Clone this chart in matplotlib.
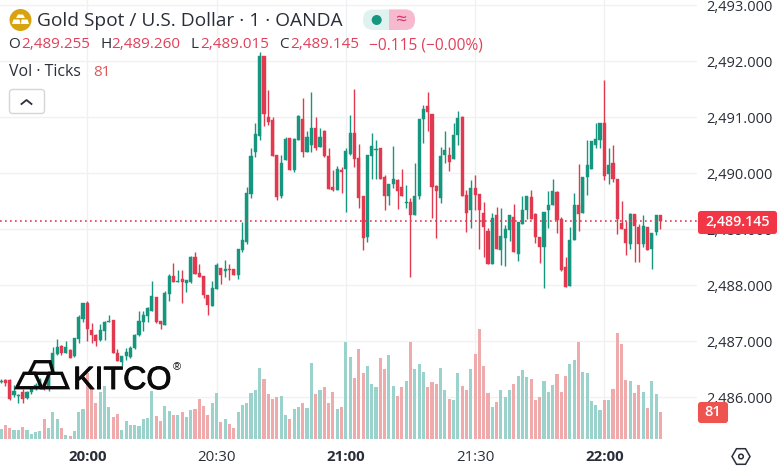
"""Gold spot 1-minute candles with tick volume, TradingView look."""

import matplotlib

matplotlib.use("Agg")
import matplotlib.patheffects as pe
import matplotlib.pyplot as plt
from matplotlib.patches import Circle, FancyBboxPatch, Polygon, Rectangle, RegularPolygon

FIRST_BAR = -20  # minutes relative to 20:00
opens = [
    2486.27, 2486.31, 2486.31, 2486.04, 2486.03, 2486.09, 2485.99, 2486.09, 2486.16, 2486.19,
    2486.24, 2486.15, 2486.46, 2486.77, 2486.92, 2486.80, 2486.85, 2486.74, 2487.04, 2487.40,
    2487.68, 2487.21, 2487.12, 2487.03, 2487.19, 2487.35, 2487.38, 2486.80, 2486.63, 2486.74,
    2486.72, 2486.88, 2487.12, 2487.34, 2487.46, 2487.55, 2487.80, 2487.37, 2487.29, 2487.85,
    2488.17, 2488.07, 2488.11, 2488.05, 2488.07, 2488.50, 2488.22, 2488.17, 2487.83, 2487.63,
    2487.94, 2488.31, 2488.26, 2488.29, 2488.29, 2488.18, 2488.63, 2488.77, 2489.63, 2490.38,
    2490.67, 2492.10, 2491.00, 2490.96, 2490.33, 2489.59, 2490.24, 2490.63, 2490.06, 2490.60,
    2490.97, 2490.39, 2490.51, 2490.82, 2490.48, 2490.76, 2490.31, 2489.75, 2489.71, 2490.06,
    2490.08, 2490.35, 2490.72, 2490.28, 2489.60, 2488.87, 2490.31, 2490.42, 2490.45, 2489.93,
    2489.60, 2489.81, 2489.88, 2489.75, 2489.47, 2489.49, 2489.26, 2489.60, 2490.97, 2491.21,
    2491.06, 2489.78, 2489.57, 2490.33, 2490.33, 2490.26, 2490.68, 2491.01, 2489.62, 2489.35,
    2489.74, 2489.63, 2489.29, 2488.97, 2488.38, 2489.26, 2488.63, 2488.85, 2488.99, 2489.22,
    2488.56, 2489.10, 2489.35, 2489.58, 2489.28, 2488.86, 2488.68, 2489.35, 2489.43, 2489.67,
    2489.19, 2488.33, 2487.99, 2488.81, 2489.44, 2489.30, 2489.93, 2490.08, 2490.51, 2490.59,
    2490.91, 2489.99, 2490.18, 2489.91, 2489.12, 2489.01, 2488.74, 2489.28, 2489.05, 2488.74,
    2489.04, 2488.65, 2488.96, 2489.255,
]
highs = [
    2486.33, 2486.33, 2486.33, 2486.22, 2486.07, 2486.16, 2486.12, 2486.19, 2486.25, 2486.35,
    2486.27, 2486.42, 2486.90, 2487.04, 2486.94, 2487.01, 2486.87, 2487.07, 2487.47, 2487.69,
    2487.72, 2487.33, 2487.13, 2487.31, 2487.37, 2487.47, 2487.38, 2486.86, 2486.74, 2486.88,
    2486.92, 2487.13, 2487.54, 2487.54, 2487.62, 2488.08, 2487.80, 2487.37, 2487.90, 2488.21,
    2488.41, 2488.28, 2488.28, 2488.10, 2488.53, 2488.59, 2488.38, 2488.17, 2487.83, 2488.08,
    2488.41, 2488.31, 2488.46, 2488.38, 2488.29, 2488.65, 2489.14, 2489.75, 2490.45, 2490.91,
    2492.17, 2492.10, 2491.49, 2491.00, 2490.33, 2490.33, 2490.65, 2490.63, 2490.63, 2491.04,
    2491.34, 2490.76, 2491.45, 2491.01, 2490.82, 2490.78, 2490.45, 2490.06, 2490.13, 2490.12,
    2490.45, 2491.04, 2491.50, 2490.53, 2489.60, 2490.33, 2490.72, 2490.60, 2490.45, 2489.97,
    2489.81, 2490.49, 2489.90, 2490.08, 2489.79, 2489.56, 2490.18, 2490.97, 2491.22, 2491.45,
    2491.06, 2489.80, 2490.48, 2490.76, 2490.47, 2490.91, 2491.12, 2491.03, 2489.71, 2489.88,
    2489.97, 2489.63, 2489.49, 2489.03, 2489.29, 2489.40, 2489.38, 2489.08, 2489.26, 2489.46,
    2489.13, 2489.59, 2489.60, 2489.71, 2489.29, 2488.86, 2489.31, 2489.69, 2489.90, 2489.69,
    2489.23, 2488.51, 2489.04, 2489.66, 2490.17, 2489.93, 2490.60, 2490.58, 2490.91, 2490.91,
    2491.67, 2490.46, 2490.51, 2489.91, 2489.51, 2489.15, 2489.29, 2489.28, 2489.10, 2489.26,
    2489.04, 2488.94, 2489.26, 2489.26,
]
lows = [
    2486.26, 2486.21, 2485.96, 2486.00, 2485.91, 2485.91, 2485.97, 2486.07, 2486.13, 2486.15,
    2486.14, 2486.12, 2486.43, 2486.76, 2486.76, 2486.79, 2486.70, 2486.73, 2486.98, 2487.35,
    2487.00, 2486.97, 2486.92, 2487.01, 2487.03, 2487.35, 2486.80, 2486.66, 2486.56, 2486.67,
    2486.70, 2486.87, 2487.10, 2487.19, 2487.35, 2487.54, 2487.33, 2487.22, 2487.29, 2487.72,
    2488.07, 2488.07, 2487.69, 2487.89, 2488.04, 2488.21, 2488.16, 2487.78, 2487.47, 2487.63,
    2487.94, 2488.03, 2488.16, 2488.09, 2488.18, 2488.12, 2488.60, 2488.74, 2489.57, 2490.29,
    2490.60, 2490.84, 2490.87, 2490.32, 2489.53, 2489.57, 2490.24, 2490.06, 2490.03, 2490.60,
    2490.30, 2490.39, 2490.39, 2490.42, 2490.48, 2490.29, 2489.72, 2489.69, 2489.71, 2489.66,
    2489.32, 2490.33, 2490.11, 2489.39, 2488.63, 2488.77, 2489.91, 2489.91, 2489.90, 2489.35,
    2489.43, 2489.74, 2489.37, 2489.59, 2489.39, 2488.16, 2489.26, 2489.54, 2490.55, 2490.75,
    2489.21, 2488.85, 2489.48, 2490.19, 2490.05, 2490.26, 2490.51, 2489.59, 2488.96, 2489.03,
    2489.34, 2488.65, 2488.51, 2488.38, 2488.38, 2488.65, 2488.37, 2488.34, 2488.79, 2488.59,
    2488.44, 2489.10, 2489.19, 2489.18, 2488.76, 2488.41, 2487.96, 2489.03, 2489.43, 2488.94,
    2488.25, 2487.98, 2487.99, 2488.81, 2488.97, 2489.30, 2489.62, 2490.08, 2490.45, 2490.46,
    2489.88, 2489.81, 2489.85, 2488.92, 2489.01, 2488.54, 2488.66, 2488.42, 2488.42, 2488.69,
    2488.64, 2488.30, 2488.91, 2489.015,
]
closes = [
    2486.29, 2486.25, 2485.97, 2486.12, 2486.05, 2485.97, 2486.10, 2486.16, 2486.22, 2486.31,
    2486.18, 2486.40, 2486.80, 2486.91, 2486.80, 2486.90, 2486.71, 2487.06, 2487.44, 2487.68,
    2487.22, 2487.12, 2487.00, 2487.21, 2487.35, 2487.37, 2486.80, 2486.66, 2486.74, 2486.82,
    2486.88, 2487.12, 2487.37, 2487.47, 2487.59, 2487.81, 2487.34, 2487.31, 2487.87, 2488.17,
    2488.07, 2488.08, 2488.07, 2488.10, 2488.50, 2488.21, 2488.16, 2487.83, 2487.65, 2487.95,
    2488.37, 2488.18, 2488.29, 2488.28, 2488.19, 2488.65, 2488.81, 2489.66, 2490.31, 2490.71,
    2492.10, 2491.06, 2490.92, 2490.32, 2489.58, 2490.18, 2490.62, 2490.06, 2490.62, 2491.03,
    2490.38, 2490.65, 2490.82, 2490.46, 2490.65, 2490.31, 2489.72, 2489.71, 2490.08, 2490.03,
    2490.40, 2490.72, 2490.26, 2489.57, 2488.85, 2490.33, 2490.49, 2490.44, 2489.90, 2489.60,
    2489.81, 2489.90, 2489.68, 2489.59, 2489.49, 2489.25, 2489.60, 2490.97, 2491.15, 2491.09,
    2489.76, 2489.69, 2490.31, 2490.42, 2490.21, 2490.69, 2490.99, 2489.59, 2489.30, 2489.74,
    2489.62, 2489.34, 2489.05, 2488.38, 2489.20, 2488.65, 2488.88, 2489.01, 2489.26, 2488.59,
    2489.13, 2489.35, 2489.59, 2489.18, 2488.87, 2488.69, 2489.31, 2489.44, 2489.69, 2489.17,
    2488.28, 2487.98, 2488.81, 2489.44, 2489.28, 2489.93, 2490.15, 2490.58, 2490.62, 2490.91,
    2489.96, 2490.15, 2489.90, 2489.19, 2489.01, 2488.76, 2489.28, 2489.07, 2488.74, 2489.06,
    2488.64, 2488.94, 2489.26, 2489.145,
]
volumes = [
    30, 42, 33, 27, 27, 36, 27, 15, 21, 24, 60, 33, 81, 60, 33, 12, 9, 24, 81, 90,
    196, 150, 108, 141, 158, 96, 66, 74, 26, 53, 41, 41, 38, 59, 62, 143, 68, 53, 98, 83,
    71, 71, 80, 65, 86, 89, 119, 98, 71, 107, 137, 50, 59, 44, 32, 80, 101, 107, 137, 146,
    212, 179, 134, 119, 125, 128, 71, 59, 89, 95, 107, 92, 227, 134, 146, 155, 107, 140, 89, 95,
    290, 245, 182, 269, 197, 218, 164, 155, 242, 209, 251, 158, 128, 155, 173, 290, 209, 224, 200, 155,
    170, 164, 212, 146, 119, 116, 197, 158, 146, 209, 254, 329, 218, 137, 95, 110, 146, 125, 146, 164,
    188, 206, 185, 179, 116, 125, 173, 140, 161, 194, 140, 188, 224, 236, 290, 200, 197, 113, 101, 86,
    116, 116, 149, 317, 284, 176, 173, 137, 161, 140, 92, 173, 134, 81,
]
price_ticks = [2486, 2487, 2488, 2489, 2490, 2491, 2492, 2493]
time_ticks = [0, 30, 60, 90, 120]
time_labels = ["20:00", "20:30", "21:00", "21:30", "22:00"]
last_close = closes[-1]

UP = "#16967f"
DOWN = "#e13a50"
UP_VOL = "#9bd3cc"
DOWN_VOL = "#efabab"
GRID = "#f0f1f4"
TEXT = "#2a2e39"
FONT = "Open Sans"

plt.rcParams["font.family"] = [FONT, "DejaVu Sans"]

W, H = 780, 466
PLOT_W, PLOT_B = 697, 440
fig = plt.figure(figsize=(W / 100, H / 100), dpi=100, facecolor="white")
rect = [0, (H - PLOT_B) / H, PLOT_W / W, PLOT_B / H]

# hidden axes only carries the volume scale, bars go on the main axes over the grid
ax_vol = fig.add_axes(rect, zorder=1)
ax = fig.add_axes(rect, zorder=2, sharex=ax_vol)
ax.patch.set_visible(False)
ax_ui = fig.add_axes([0, 0, 1, 1], zorder=3)
ax_ui.set_xlim(0, W)
ax_ui.set_ylim(H, 0)
ax_ui.axis("off")
ax_ui.patch.set_visible(False)

xs = list(range(FIRST_BAR, FIRST_BAR + len(closes)))
body_bottom = [min(o, c) for o, c in zip(opens, closes)]
body_height = [abs(c - o) for o, c in zip(opens, closes)]
colors = [UP if c >= o else DOWN for o, c in zip(opens, closes)]
vol_colors = [UP_VOL if c >= o else DOWN_VOL for o, c in zip(opens, closes)]

ax_vol.set_ylim(-3.9, 1316)
ax_vol.axis("off")
ax.bar(xs, volumes, width=0.72, color=vol_colors, linewidth=0, zorder=1, transform=ax_vol.transData)

ax.vlines(xs, lows, highs, colors=colors, linewidth=1.0, zorder=3)
ax.bar(xs, body_height, bottom=body_bottom, width=0.72, color=colors, linewidth=0.3, edgecolor=colors, zorder=4)
ax.axhline(last_close, color=DOWN, linewidth=1.2, linestyle=(0, (1, 2)), zorder=5)

ax.set_xlim(-20.26, 141.5)
ax.set_ylim(2485.241, 2493.098)
ax.yaxis.tick_right()
ax.set_yticks(price_ticks, [f"{p:,.3f}" for p in price_ticks])
ax.set_xticks(time_ticks, time_labels)
ax.tick_params(axis="both", length=0, labelcolor=TEXT)
ax.tick_params(axis="y", pad=6.5, labelsize=10.5)
ax.tick_params(axis="x", pad=7, labelsize=10.8)
for label, minute in zip(ax.get_xticklabels(), time_ticks):
    if minute % 60 == 0:
        label.set_fontweight("bold")
ax.grid(True, color=GRID, linewidth=1.0)
ax.set_axisbelow(True)
for spine in ax.spines.values():
    spine.set_visible(False)

# last price and last volume tags on the price scale
ax_ui.add_patch(FancyBboxPatch((699, 212), 77, 21, boxstyle="round,pad=0,rounding_size=2", fc="#f23645", ec="#f23645", lw=1.5))
ax_ui.text(737.5, 222.5, f"{last_close:,.3f}", color="white", fontsize=10.3, fontweight="semibold", ha="center", va="center")
ax_ui.add_patch(FancyBboxPatch((699, 403), 28, 19, boxstyle="round,pad=0,rounding_size=2", fc="#ef5350", ec="#ef5350", lw=1.5))
ax_ui.text(713, 412.5, str(volumes[-1]), color="white", fontsize=10.5, fontweight="semibold", ha="center", va="center")

# header
ax_ui.add_patch(Circle((20.5, 20), 11, fc="#d9a30f", ec="none"))
ax_ui.add_patch(Polygon([(18, 14.5), (23, 14.5), (25, 18), (16, 18)], fc="white", ec="none"))
ax_ui.add_patch(Polygon([(13.5, 19.5), (19.5, 19.5), (20.5, 24), (12, 24)], fc="white", ec="none"))
ax_ui.add_patch(Polygon([(21.5, 19.5), (27.5, 19.5), (29, 24), (21, 24)], fc="white", ec="none"))
ax_ui.text(37, 20.5, "Gold Spot / U.S. Dollar · 1 · OANDA", color=TEXT, fontsize=13.8, ha="left", va="center")

ohlc = [
    (8, "O", 21, "2,489.255"),
    (100, "H", 111, "2,489.260"),
    (191, "L", 200, "2,489.015"),
    (279, "C", 290, "2,489.145"),
]
for lx, key, vx, val in ohlc:
    ax_ui.text(lx, 45, key, color=TEXT, fontsize=11, ha="left", va="center")
    ax_ui.text(vx, 45, val, color="#e2405a", fontsize=11, ha="left", va="center")
ax_ui.text(369, 45, "\u22120.115 (\u22120.00%)", color="#e2405a", fontsize=11.2, ha="left", va="center")
ax_ui.text(9, 72, "Vol · Ticks", color=TEXT, fontsize=11.4, ha="left", va="center")
ax_ui.text(93, 72, str(volumes[-1]), color="#e05a5a", fontsize=11, ha="left", va="center")

ax_ui.add_patch(FancyBboxPatch((9.5, 89.5), 35, 24, boxstyle="round,pad=0,rounding_size=3", fc="white", ec="#d5d6da", lw=1))
ax_ui.plot([21.5, 26.5, 31.5], [104, 100, 104], color=TEXT, linewidth=1.3)

# status pill, teal left half and pink right half
ax_ui.add_patch(FancyBboxPatch((363, 9.5), 52, 20.5, boxstyle="round,pad=0,rounding_size=10", fc="#dff2ef", ec="none"))
pink = FancyBboxPatch((363, 9.5), 52, 20.5, boxstyle="round,pad=0,rounding_size=10", fc="#f7b9cd", ec="none")
ax_ui.add_patch(pink)
pink.set_clip_path(Rectangle((389, 0), 40, 40, transform=ax_ui.transData))
ax_ui.add_patch(Circle((376.7, 20), 5, fc=UP, ec="none"))
ax_ui.text(400.5, 19.5, "≈", color="#d6336c", fontsize=14, ha="center", va="center")

# watermark
for pts in [
    [(16.7, 387.7), (41.7, 387.7), (35, 373.3), (24, 373.3)],
    [(43.3, 387.7), (67.7, 387.7), (61.7, 373.3), (49.3, 373.3)],
    [(29.3, 373.3), (53.3, 373.3), (50, 361.7), (35, 361.7)],
]:
    ax_ui.add_patch(Polygon(pts, fc="none", ec="#0b0b0b", lw=2.4, joinstyle="miter"))
kitco = ax_ui.text(73, 389, "KITCO", color="#0b0b0b", fontsize=23.2, family="Liberation Sans", ha="left", va="baseline")
kitco.set_path_effects([pe.withStroke(linewidth=0.7, foreground="#0b0b0b")])
ax_ui.text(172.5, 367.5, "®", color="#0b0b0b", fontsize=8, family="Liberation Sans", ha="left", va="center")

# settings hexagon
ax_ui.add_patch(RegularPolygon((741, 456.5), 6, radius=9, orientation=1.5708, fc="none", ec=TEXT, lw=1.1))
ax_ui.add_patch(Circle((741, 456.5), 2.3, fc="none", ec=TEXT, lw=1.1))

fig.savefig("out.png", dpi=100)
